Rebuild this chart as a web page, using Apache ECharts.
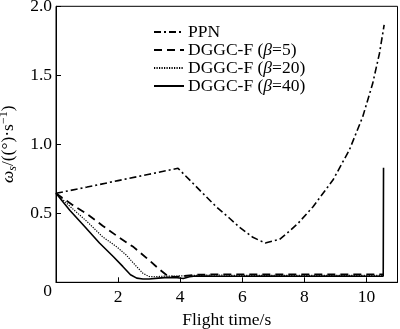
<!DOCTYPE html>
<html>
<head>
<meta charset="utf-8">
<script src="https://cdn.jsdelivr.net/npm/echarts@6/dist/echarts.min.js"></script>
<style>html,body{margin:0;padding:0;background:#fff}#c{width:400px;height:329px}</style>
</head>
<body>
<div id="c"></div>
<script>
const seriesNames = ['PPN', 'DGGC-F (β=5)', 'DGGC-F (β=20)', 'DGGC-F (β=40)'];
const xTicks = [2, 4, 6, 8, 10];
const yTicks = [0, 0.5, 1.0, 1.5, 2.0];

const tPPN = [0, 1, 2, 3, 3.93, 4.36, 4.73, 5.16, 5.59, 5.91, 6.34, 6.74, 7.2, 7.5, 7.8, 8.28, 8.92, 9.45, 9.88, 10.2, 10.42, 10.57];
const vPPN = [0.645, 0.69, 0.737, 0.783, 0.826, 0.729, 0.645, 0.548, 0.464, 0.399, 0.326, 0.285, 0.311, 0.367, 0.428, 0.548, 0.741, 0.959, 1.2, 1.44, 1.66, 1.865];

const tB5 = [0, 0.5, 1, 1.5, 2, 2.5, 3, 3.3, 3.6, 3.8, 4, 4.5, 5, 6, 7, 8, 9, 10, 10.55];
const vB5 = [0.645, 0.565, 0.495, 0.41, 0.33, 0.255, 0.16, 0.1, 0.045, 0.04, 0.042, 0.055, 0.057, 0.058, 0.057, 0.058, 0.057, 0.058, 0.058];

const tB20 = [0, 0.45, 1.0, 1.5, 1.95, 2.25, 2.6, 2.8, 3.0, 3.2, 3.5, 4, 4.5, 5, 6, 7, 8, 9, 10, 10.55];
const vB20 = [0.645, 0.55, 0.44, 0.33, 0.258, 0.2, 0.113, 0.065, 0.042, 0.04, 0.045, 0.046, 0.05, 0.052, 0.05, 0.051, 0.05, 0.051, 0.05, 0.05];

const tB40 = [0, 0.45, 0.9, 1.4, 1.85, 2.15, 2.4, 2.6, 2.8, 3.0, 3.3, 3.6, 3.9, 4.1, 4.3, 4.5, 5, 6, 7, 8, 9, 10, 10.54, 10.55];
const vB40 = [0.645, 0.52, 0.41, 0.285, 0.185, 0.115, 0.055, 0.03, 0.024, 0.024, 0.03, 0.036, 0.033, 0.027, 0.04, 0.046, 0.045, 0.044, 0.045, 0.044, 0.045, 0.044, 0.045, 0.83];

const zip = (t, v) => t.map((x, i) => [x, v[i]]);
const FONT = '"Liberation Serif", "Times New Roman", serif';
const FS = 17.5;

const chart = echarts.init(document.getElementById('c'), null, {renderer: 'canvas'});
chart.setOption({
  animation: false,
  backgroundColor: '#fff',
  color: ['#000', '#000', '#000', '#000'],
  textStyle: {fontFamily: FONT, color: '#000'},
  grid: {left: 56, right: 2.5, top: 6.3, bottom: 46.7, show: true, borderColor: '#000', borderWidth: 1,
    containLabel: false, outerBoundsMode: 'none'},
  legend: {
    left: 153, top: 23, padding: 0, orient: 'vertical', itemWidth: 30, itemHeight: 14, itemGap: 0,
    itemStyle: {opacity: 0},
    textStyle: {fontFamily: FONT, fontSize: FS, lineHeight: 17.5, color: '#000', padding: [0, 0, 0, -1],
      rich: {i: {fontFamily: FONT, fontSize: FS, lineHeight: 17.5, fontStyle: 'italic', color: '#000'}}},
    formatter: n => n.replace('β', '{i|β}'),
    data: seriesNames
  },
  xAxis: {
    type: 'value', min: 0, max: 11, interval: 2,
    name: 'Flight time/s', nameLocation: 'middle', nameGap: 29,
    nameTextStyle: {fontFamily: FONT, fontSize: FS, color: '#000'},
    axisLine: {lineStyle: {color: '#000', width: 1}},
    axisTick: {inside: true, length: 5, lineStyle: {color: '#000'}},
    splitLine: {show: false},
    axisLabel: {fontFamily: FONT, fontSize: FS, color: '#000', margin: 6, showMaxLabel: false,
      formatter: v => xTicks.includes(v) ? String(v) : ''}
  },
  yAxis: {
    type: 'value', min: 0, max: 2, interval: 0.5,
    name: '{w|ω}{s|s}{n|/((°)·s}{p|−1}{n|)}', nameLocation: 'middle', nameGap: 31,
    nameTextStyle: {fontFamily: FONT, fontSize: FS, color: '#000',
      rich: {
        w: {fontFamily: FONT, fontSize: FS, fontStyle: 'italic', color: '#000', lineHeight: 21},
        s: {fontFamily: FONT, fontSize: 12, fontStyle: 'italic', color: '#000', lineHeight: 10, verticalAlign: 'bottom'},
        n: {fontFamily: FONT, fontSize: FS, color: '#000', lineHeight: 21},
        p: {fontFamily: FONT, fontSize: 12, color: '#000', lineHeight: 10, verticalAlign: 'top'}
      }},
    axisLine: {lineStyle: {color: '#000', width: 1}},
    axisTick: {inside: true, length: 5, lineStyle: {color: '#000'}},
    splitLine: {show: false},
    axisLabel: {fontFamily: FONT, fontSize: FS, color: '#000', margin: 4,
      formatter: v => !yTicks.includes(v) ? '' : (v === 0 ? '{z|0}' : v.toFixed(1)),
      rich: {z: {fontFamily: FONT, fontSize: FS, color: '#000', padding: [19, 0, 0, 0]}}}
  },
  series: [
    {name: seriesNames[0], type: 'line', symbol: 'none', data: zip(tPPN, vPPN),
      lineStyle: {color: '#000', width: 1.6, type: [7, 3, 2, 3]}},
    {name: seriesNames[1], type: 'line', symbol: 'none', data: zip(tB5, vB5),
      lineStyle: {color: '#000', width: 1.8, type: [8, 5]}},
    {name: seriesNames[2], type: 'line', symbol: 'none', data: zip(tB20, vB20),
      lineStyle: {color: '#000', width: 1.2, type: [1.2, 1.3]}},
    {name: seriesNames[3], type: 'line', symbol: 'none', data: zip(tB40, vB40),
      lineStyle: {color: '#000', width: 1.6, type: 'solid'}}
  ]
});
</script>
</body>
</html>
